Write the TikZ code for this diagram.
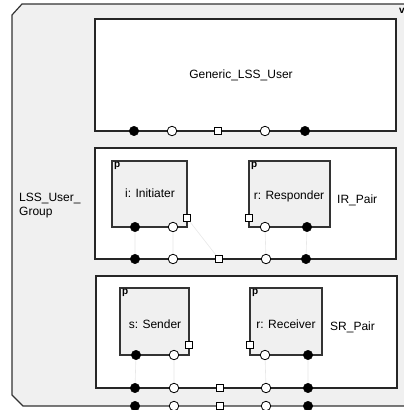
\documentclass[tikz,border=0pt]{standalone}
\usepackage{fontspec}
\setmainfont{Liberation Sans}
\begin{document}
\begin{tikzpicture}[x=1pt,y=-1pt,
  fport/.style={circle,fill=black,draw=black,inner sep=0pt,minimum size=9.5pt},
  oport/.style={circle,fill=white,draw=black,line width=0.8pt,inner sep=0pt,minimum size=9.5pt},
  sport/.style={rectangle,fill=white,draw=black,line width=0.8pt,inner sep=0pt,minimum size=7pt},
  lbl/.style={font=\fontsize{12}{14}\selectfont,inner sep=0pt},
  plbl/.style={font=\fontsize{10}{11}\selectfont\bfseries,inner sep=0pt,anchor=north west},
  wire/.style={draw=black!9,line width=0.6pt},
  part/.style={fill=black!6,draw=black!80,line width=1.2pt},
  cont/.style={fill=white,draw=black!85,line width=1.3pt}]
\useasboundingbox (0,0) rectangle (404,410);
\clip (0,0) rectangle (404,410);
% outer group
\draw[fill=black!6,draw=black!80,line width=1.2pt] (22,4) -- (420,4) -- (420,406) -- (23,406) -- (12,395) -- (12,15) -- cycle;
\node[font=\fontsize{10}{12}\selectfont\bfseries,anchor=north west,inner sep=0pt] (vlbl) at (399,8) {v};
\node[lbl,align=left,anchor=west] (grp) at (19,206) {LSS\_User\_\\Group};
% Generic_LSS_User
\path[cont] (95,19) rectangle (396,131);
\node[lbl] (gen) at (241,75) {Generic\_LSS\_User};
\node[fport] (g1) at (134,131) {};
\node[oport] (g2) at (172,131) {};
\node[sport] (g3) at (218,131) {};
\node[oport] (g4) at (265,131) {};
\node[fport] (g5) at (305,131) {};
% IR_Pair
\path[cont] (95,148) rectangle (396,259);
\node[lbl,anchor=west] (irl) at (337,200) {IR\_Pair};
\path[part] (112,161) rectangle (187,227);
\node[plbl] at (114,162) {p};
\node[lbl] (ini) at (150,193) {i: Initiater};
\path[part] (249,161) rectangle (330,227);
\node[plbl] at (251,162) {p};
\node[lbl] (res) at (289,196) {r: Responder};
\node[fport] (i1) at (135,227) {};
\node[oport] (i2) at (173,227) {};
\node[sport] (i3) at (187,218) {};
\node[sport] (r3) at (249,218) {};
\node[oport] (r4) at (265,227) {};
\node[fport] (r5) at (307,227) {};
\path[wire] (i1) -- (135,259) (i2) -- (173,259) (i3) -- (219,259) (r4) -- (266,259) (r5) -- (306,259);
\node[fport] (p1) at (135,259) {};
\node[oport] (p2) at (173,259) {};
\node[sport] (p3) at (219,259) {};
\node[oport] (p4) at (266,259) {};
\node[fport] (p5) at (306,259) {};
% SR_Pair
\path[cont] (96,276) rectangle (397,388);
\node[lbl,anchor=west] (srl) at (330,327) {SR\_Pair};
\path[part] (120,288) rectangle (189,355);
\node[plbl] at (122,289) {p};
\node[lbl] (snd) at (155,324) {s: Sender};
\path[part] (250,288) rectangle (322,355);
\node[plbl] at (252,289) {p};
\node[lbl] (rcv) at (286,324) {r: Receiver};
\node[fport] (s1) at (136,355) {};
\node[oport] (s2) at (174,355) {};
\node[sport] (s3) at (189,345) {};
\node[sport] (c3) at (250,345) {};
\node[oport] (c4) at (265,355) {};
\node[fport] (c5) at (308,355) {};
\path[wire] (s1) -- (135,388) (s2) -- (174,388) (c4) -- (266,388) (c5) -- (308,388);
\node[fport] (q1) at (135,388) {};
\node[oport] (q2) at (174,388) {};
\node[sport] (q3) at (220,388) {};
\node[oport] (q4) at (266,388) {};
\node[fport] (q5) at (308,388) {};
% outer ports
\node[fport] (o1) at (135,406) {};
\node[oport] (o2) at (174,406) {};
\node[sport] (o3) at (220,406) {};
\node[oport] (o4) at (266,406) {};
\node[fport] (o5) at (308,406) {};
\end{tikzpicture}
\end{document}
